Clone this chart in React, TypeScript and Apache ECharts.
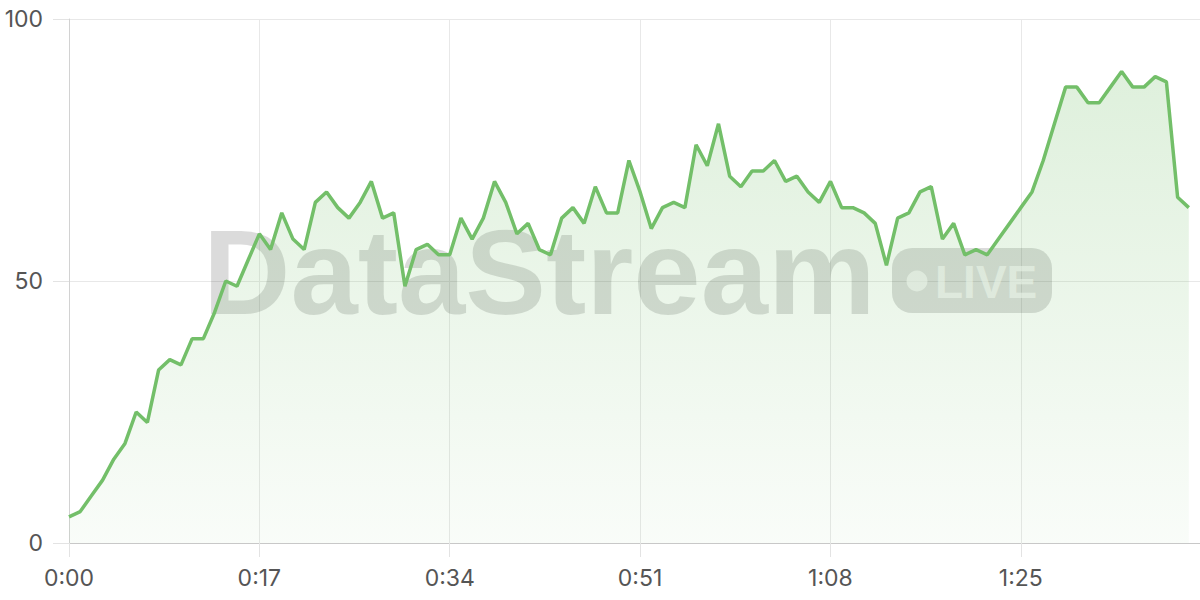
import React, { useEffect, useRef } from "react";
import * as echarts from "echarts";

// Value per second (0:00 .. 1:40)
const values: number[] = [
  5, 6, 9, 12, 16, 19, 25, 23, 33, 35,
  34, 39, 39, 44, 50, 49, 54, 59, 56, 63,
  58, 56, 65, 67, 64, 62, 65, 69, 62, 63,
  49, 56, 57, 55, 55, 62, 58, 62, 69, 65,
  59, 61, 56, 55, 62, 64, 61, 68, 63, 63,
  73, 67, 60, 64, 65, 64, 76, 72, 80, 70,
  68, 71, 71, 73, 69, 70, 67, 65, 69, 64,
  64, 63, 61, 53, 62, 63, 67, 68, 58, 61,
  55, 56, 55, 58, 61, 64, 67, 73, 80, 87,
  87, 84, 84, 87, 90, 87, 87, 89, 88, 66,
  64,
];
const seconds: number[] = values.map((_, i) => i);

const xMin = 0;
const xMax = 101;
const xInterval = 17;
const yTicks = [0, 50, 100];

const watermarkTitle = "DataStream";
const watermarkBadge = "LIVE";

function fmtTime(v: number): string {
  const m = Math.floor(v / 60);
  const s = Math.round(v % 60);
  return `${m}:${String(s).padStart(2, "0")}`;
}

export default function App() {
  const ref = useRef<HTMLDivElement>(null);

  useEffect(() => {
    if (!ref.current) return;
    const chart = echarts.init(ref.current, null, { renderer: "svg" });
    const labelStyle = {
      color: "#555",
      fontFamily: "Inter, 'Noto Sans', sans-serif",
      fontSize: 23,
    };
    const wmFill = "rgba(0,0,0,0.14)";
    chart.setOption({
      animation: false,
      backgroundColor: "#ffffff",
      grid: { left: 69, right: 0, top: 19, bottom: 57 },
      xAxis: {
        type: "value",
        min: xMin,
        max: xMax,
        interval: xInterval,
        axisLine: { show: true, lineStyle: { color: "#c8c8c8", width: 1 } },
        axisTick: { show: true, length: 14, lineStyle: { color: "#e3e3e3" } },
        splitLine: { show: true, lineStyle: { color: "#e8e8e8" } },
        axisLabel: {
          ...labelStyle,
          margin: 23,
          showMaxLabel: false,
          formatter: (v: number) => fmtTime(v),
        },
      },
      yAxis: {
        type: "value",
        min: yTicks[0],
        max: yTicks[yTicks.length - 1],
        interval: yTicks[1] - yTicks[0],
        axisLine: { show: true, lineStyle: { color: "#d2d2d2", width: 1 } },
        axisTick: { show: true, length: 16, lineStyle: { color: "#e3e3e3" } },
        splitLine: { show: true, lineStyle: { color: "#e8e8e8" } },
        axisLabel: { ...labelStyle, margin: 26 },
      },
      graphic: {
        elements: [
          {
            type: "text",
            z: 1,
            x: 203,
            y: 272,
            style: {
              text: watermarkTitle,
              font: "bold 121px 'Liberation Sans', Arial, sans-serif",
              fill: wmFill,
              align: "left",
              verticalAlign: "middle",
            },
          },
          {
            type: "rect",
            z: 1,
            shape: { x: 892, y: 248, width: 160, height: 65, r: 20 },
            style: { fill: wmFill },
          },
          {
            type: "circle",
            z: 1,
            shape: { cx: 917, cy: 281, r: 10.5 },
            style: { fill: "rgba(255,255,255,0.6)" },
          },
          {
            type: "text",
            z: 1,
            x: 935,
            y: 282,
            style: {
              text: watermarkBadge,
              font: "bold 46px 'Liberation Sans', Arial, sans-serif",
              fill: "rgba(255,255,255,0.6)",
              align: "left",
              verticalAlign: "middle",
            },
          },
        ],
      },
      series: [
        {
          type: "line",
          z: 2,
          data: seconds.map((s, i) => [s, values[i]]),
          showSymbol: false,
          symbol: "none",
          lineStyle: { color: "#73BF69", width: 3.5 },
          itemStyle: { color: "#73BF69" },
          areaStyle: {
            color: new echarts.graphic.LinearGradient(0, 0, 0, 1, [
              { offset: 0, color: "rgba(115,191,105,0.33)" },
              { offset: 1, color: "rgba(115,191,105,0.06)" },
            ]),
          },
        },
      ],
    });
    return () => chart.dispose();
  }, []);

  return (
    <div
      ref={ref}
      style={{
        position: "fixed",
        left: 0,
        top: 0,
        width: 1200,
        height: 600,
        background: "#fff",
      }}
    />
  );
}
